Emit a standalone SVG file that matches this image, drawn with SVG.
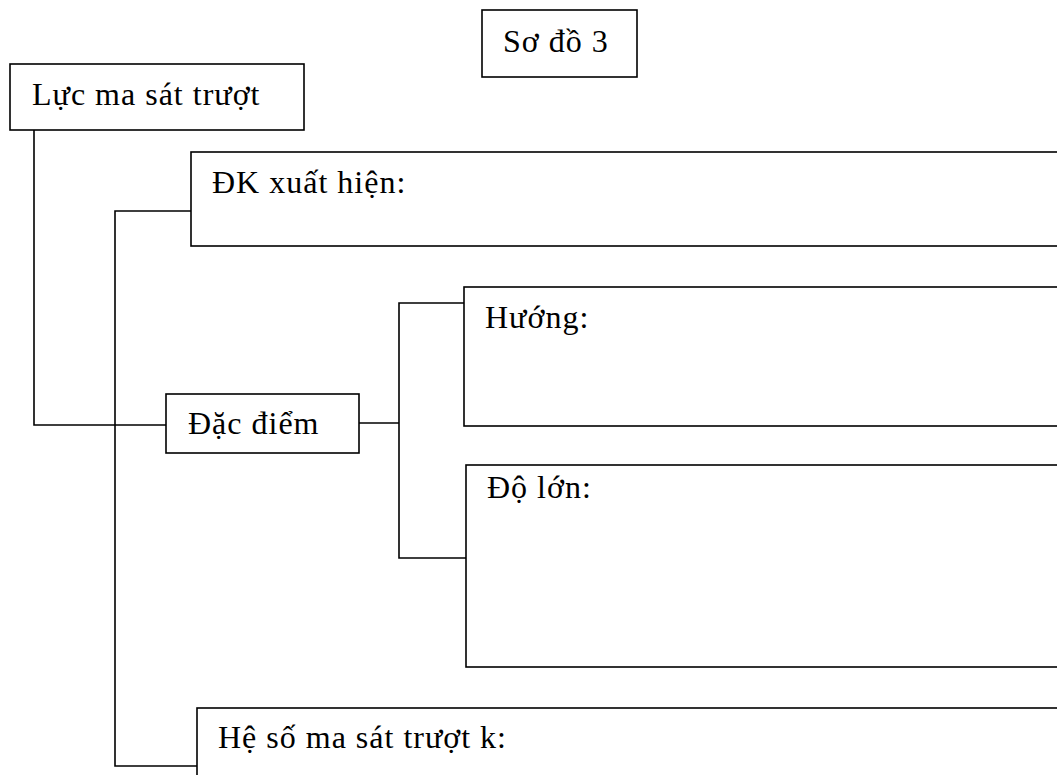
<svg xmlns="http://www.w3.org/2000/svg" width="1057" height="775" viewBox="0 0 1057 775">
<style>
.box{fill:#fff;stroke:#000;stroke-width:1.6}
.ln{fill:none;stroke:#000;stroke-width:1.6}
.t{font-family:"Liberation Serif","Times New Roman",serif;font-size:32px;letter-spacing:1px;fill:#000}
</style>
<rect width="1057" height="775" fill="#fff"/>
<g id="connectors">
<path class="ln" d="M34,130 V425 H166"/>
<path class="ln" d="M191,211 H115 V766 H197"/>
<path class="ln" d="M359,423 H399"/>
<path class="ln" d="M464,303 H399 V558 H466"/>
</g>
<g id="title"><rect class="box" x="482" y="10" width="155" height="67"/><text class="t" x="503" y="52">Sơ đồ 3</text></g>
<g id="luc"><rect class="box" x="10" y="64" width="294" height="66"/><text class="t" x="32" y="105">Lực ma sát trượt</text></g>
<g id="dk"><rect class="box" x="191" y="152" width="880" height="94"/><text class="t" x="212" y="193">ĐK xuất hiện:</text></g>
<g id="dacdiem"><rect class="box" x="166" y="394" width="193" height="59"/><text class="t" x="188" y="434">Đặc điểm</text></g>
<g id="huong"><rect class="box" x="464" y="287" width="610" height="139"/><text class="t" x="485" y="328">Hướng:</text></g>
<g id="dolon"><rect class="box" x="466" y="465" width="610" height="202"/><text class="t" x="487" y="498">Độ lớn:</text></g>
<g id="heso"><rect class="box" x="197" y="708" width="880" height="90"/><text class="t" x="218" y="748">Hệ số ma sát trượt k:</text></g>
</svg>
